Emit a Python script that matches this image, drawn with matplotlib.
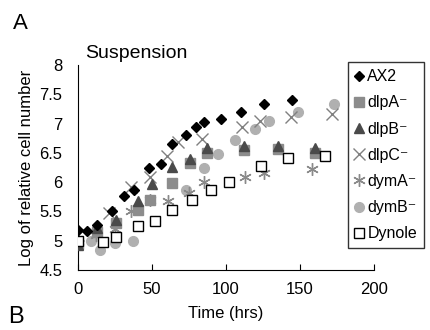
import matplotlib
matplotlib.use("Agg")
import matplotlib.pyplot as plt

plt.rcParams['font.family'] = ['Liberation Sans', 'DejaVu Sans']

# data (time in hrs, log of relative cell number)
ax2_t = [0, 6, 13, 23, 31, 38, 48, 56, 64, 73, 80, 85, 97, 110, 126, 145]
ax2_y = [5.18, 5.16, 5.27, 5.50, 5.76, 5.86, 6.24, 6.31, 6.65, 6.81, 6.94, 7.02, 7.08, 7.20, 7.33, 7.41]

dlpA_t = [0, 13, 26, 41, 49, 64, 76, 87, 112, 135, 160]
dlpA_y = [4.95, 5.15, 5.30, 5.53, 5.70, 5.99, 6.32, 6.50, 6.55, 6.57, 6.50]

dlpB_t = [0, 13, 26, 41, 50, 64, 76, 87, 112, 135, 160]
dlpB_y = [4.93, 5.21, 5.35, 5.67, 5.97, 6.25, 6.40, 6.58, 6.62, 6.62, 6.58]

dlpC_t = [0, 21, 36, 49, 60, 68, 84, 111, 123, 144, 172]
dlpC_y = [5.10, 5.47, 5.92, 6.09, 6.44, 6.69, 6.73, 6.94, 7.04, 7.11, 7.16]

dymA_t = [0, 12, 25, 36, 49, 61, 75, 85, 113, 126, 158]
dymA_y = [5.00, 5.10, 5.20, 5.50, 5.70, 5.68, 5.81, 6.01, 6.09, 6.16, 6.22]

dymB_t = [0, 9, 15, 25, 37, 52, 73, 85, 95, 106, 120, 129, 149, 173]
dymB_y = [5.00, 5.00, 4.84, 4.96, 5.00, 5.34, 5.86, 6.24, 6.48, 6.72, 6.90, 7.04, 7.19, 7.33]

dyn_t = [0, 17, 26, 41, 52.5, 64, 77, 90, 102, 124, 142, 167]
dyn_y = [5.00, 4.97, 5.07, 5.25, 5.34, 5.53, 5.70, 5.87, 6.00, 6.27, 6.42, 6.45]

x_ticks = [0, 50, 100, 150, 200]
y_ticks = [4.5, 5, 5.5, 6, 6.5, 7, 7.5, 8]

fig = plt.figure(figsize=(4.3, 3.3), dpi=100)
ax = fig.add_axes([0.181, 0.182, 0.688, 0.621])

ax.plot(dymB_t, dymB_y, 'o', color='#b0b0b0', ms=7, mec='#b0b0b0', label='dymB\u207b', zorder=2)
ax.plot(dymA_t, dymA_y, ls='none', marker=(6, 2, 0), color='#8a8a8a', ms=9, mew=1.0, label='dymA\u207b', zorder=3)
ax.plot(dlpC_t, dlpC_y, 'x', color='#808080', ms=8, mew=1.0, label='dlpC\u207b', zorder=3)
ax.plot(dlpA_t, dlpA_y, 's', color='#8c8c8c', ms=7, label='dlpA\u207b', zorder=4)
ax.plot(dlpB_t, dlpB_y, '^', color='#4a4a4a', ms=7, label='dlpB\u207b', zorder=5)
ax.plot(dyn_t, dyn_y, 's', mfc='white', mec='black', mew=1.0, ms=7.5, label='Dynole', zorder=6)
ax.plot(ax2_t, ax2_y, 'D', color='black', ms=5.5, label='AX2', zorder=7)

ax.set_xlim(0, 200)
ax.set_ylim(4.5, 8)
ax.set_xticks(x_ticks)
ax.set_yticks(y_ticks)
ax.set_yticklabels([f'{v:g}' for v in y_ticks])
ax.spines['top'].set_visible(False)
ax.spines['right'].set_visible(False)
ax.tick_params(axis='x', direction='in', length=4, labelsize=12, pad=9)
ax.tick_params(axis='y', length=0, labelsize=12, pad=11)
ax.set_xlabel('Time (hrs)', fontsize=12, labelpad=6)
ax.set_ylabel('Log of relative cell number', fontsize=12, labelpad=4)
ax.set_title('Suspension', fontsize=14, loc='left', x=0.024, pad=5)

# legend in the same order as the reference
h, l = ax.get_legend_handles_labels()
order = ['AX2', 'dlpA\u207b', 'dlpB\u207b', 'dlpC\u207b', 'dymA\u207b', 'dymB\u207b', 'Dynole']
hs = [h[l.index(o)] for o in order]
leg = fig.legend(hs, order, loc='upper left', bbox_to_anchor=(0.81, 0.812),
                 fontsize=11.5, frameon=True, fancybox=False, edgecolor='black',
                 handlelength=0.5, handletextpad=0.25, labelspacing=0.7,
                 borderpad=0.45, borderaxespad=0)
leg.get_frame().set_linewidth(1.0)

fig.text(0.03, 0.912, 'A', fontsize=16)
fig.text(0.02, 0.021, 'B', fontsize=17)

fig.savefig('out.png', dpi=100)
